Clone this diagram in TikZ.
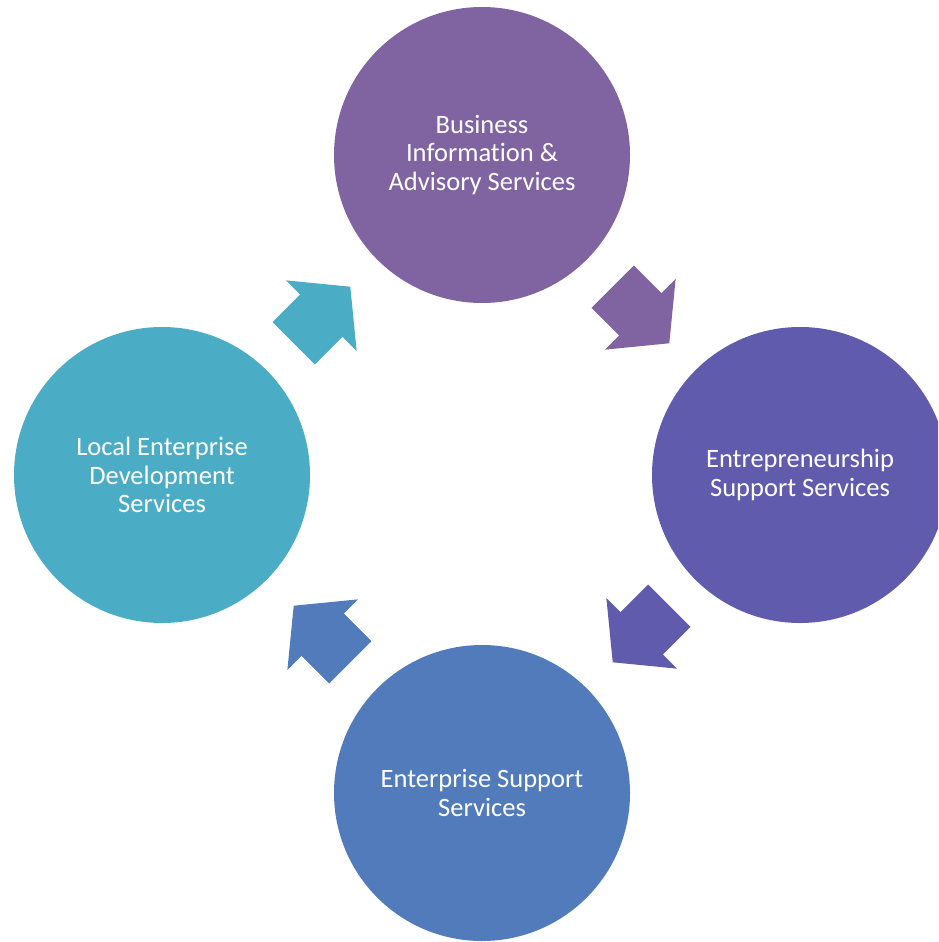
\documentclass[tikz,border=0pt]{standalone}
\usepackage{fontspec}
\setmainfont{Carlito}[Ligatures=NoCommon]
\usetikzlibrary{calc}
\definecolor{cTop}{HTML}{8064A2}
\definecolor{cRight}{HTML}{605BAD}
\definecolor{cBottom}{HTML}{527BBB}
\definecolor{cLeft}{HTML}{4BACC6}
\tikzset{
  bubble/.style={circle, minimum size=296*0.02cm, inner sep=0pt, draw=none,
    text=white, align=center, font=\fontsize{15.1}{16.4}\selectfont},
}
\newcommand{\blockarrow}[4]{%
  \fill[#4, shift={($(#1)!0.5!(#2)$)}, rotate=#3]
    (-40,-30) -- (-1,-30) -- (-1,-50) -- (40,0) -- (-1,50) -- (-1,30) -- (-40,30) -- cycle;}
\begin{document}
\begin{tikzpicture}[x=0.02cm, y=-0.02cm]
\useasboundingbox (0,0) rectangle (938,942);
\clip (0,0) rectangle (938,942);
\node[bubble, fill=cTop]    (ntop)    at (482,155) {Business\\Information \&\\Advisory Services};
\node[bubble, fill=cRight]  (nright)  at (800,475) {Entrepreneurship\\Support Services};
\node[bubble, fill=cBottom] (nbottom) at (482,793) {Enterprise Support\\Services};
\node[bubble, fill=cLeft]   (nleft)   at (162,475) {Local Enterprise\\Development\\Services};
\blockarrow{ntop}{nright}{-45}{cTop}
\blockarrow{nright}{nbottom}{-135}{cRight}
\blockarrow{nbottom}{nleft}{135}{cBottom}
\blockarrow{nleft}{ntop}{45}{cLeft}
\end{tikzpicture}
\end{document}
